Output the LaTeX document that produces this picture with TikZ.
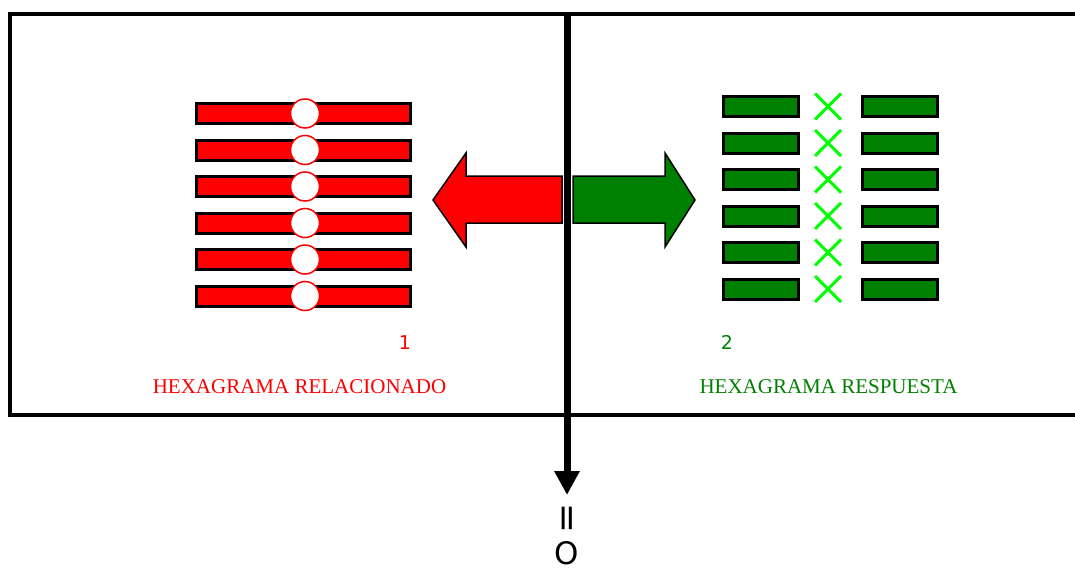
\documentclass[tikz,border=0pt]{standalone}
\usepackage{fontspec}
\setmainfont{Liberation Serif}
\setsansfont{DejaVu Sans}
\usetikzlibrary{arrows.meta,positioning}
\definecolor{hexgreen}{RGB}{0,128,0}
\definecolor{hexlime}{RGB}{0,255,0}

\begin{document}
\begin{tikzpicture}[x=1pt,y=-1pt,
  redbar/.style={draw=black,line width=3pt,fill=red,inner sep=0pt,minimum width=214pt,minimum height=20pt},
  greenbar/.style={draw=black,line width=3pt,fill=hexgreen,inner sep=0pt,minimum width=75pt,minimum height=20pt},
  dot/.style={circle,draw=red,line width=1.5pt,fill=white,inner sep=0pt,minimum size=29pt},
  cross/.style={hexlime,line width=3pt},
  bigarrow/.style={draw=black,line width=1.5pt,line join=miter},
  redtext/.style={text=red,font=\fontsize{21}{25}\selectfont},
  greentext/.style={text=hexgreen,font=\fontsize{21}{25}\selectfont},
  numtext/.style={font=\sffamily\fontsize{19}{23}\selectfont},
  signtext/.style={font=\sffamily\fontsize{31}{35}\selectfont,inner sep=0pt}]

%Page size
\useasboundingbox (0,0) rectangle (1075,567);
\clip (0,0) rectangle (1075,567);

%Row positions
\def\ry{113.5}
\def\gy{106.5}
\def\dy{36.5}

%Frame
\draw[line width=4pt] (9.5,14) rectangle (1090,415);

%Related hexagram
\foreach \i in {0,...,5}{
  \node[redbar] (r\i) at (303.5,\ry+\dy*\i) {};
  \node[dot] (c\i) at (305,\ry+\dy*\i) {};
}

%Answer hexagram
\foreach \i in {0,...,5}{
  \node[greenbar] (gl\i) at (761,\gy+\dy*\i) {};
  \node[greenbar] (gr\i) at (900,\gy+\dy*\i) {};
  \draw[cross] (815,\gy+\dy*\i-13) -- (841,\gy+\dy*\i+13);
  \draw[cross] (815,\gy+\dy*\i+13) -- (841,\gy+\dy*\i-13);
}

%Block arrows
\draw[bigarrow,fill=red] (433,200) -- (466,153) -- (466,176) -- (562,176)
  -- (562,223) -- (466,223) -- (466,247) -- cycle;
\draw[bigarrow,fill=hexgreen] (695,200) -- (665,153) -- (665,176) -- (573,176)
  -- (573,223) -- (665,223) -- (665,247) -- cycle;

%Vertical axis
\coordinate (top) at (567,12);
\coordinate (tip) at (567,495);
\draw[line width=7pt,-{Triangle[length=24pt,width=24pt]}] (top) -- (tip);

%Labels
\node[numtext,text=red,anchor=base] (one) at (405,349) {1};
\node[numtext,text=hexgreen,anchor=base] (two) at (727,349) {2};
\node[redtext,anchor=base] (relname) at (299.5,393) {HEXAGRAMA RELACIONADO};
\node[greentext,anchor=base] (respname) at (828.5,393) {HEXAGRAMA RESPUESTA};
\node[signtext,font=\sffamily\fontsize{36}{40}\selectfont,rotate=90] (eq) at (570,518) {=};
\node[signtext,anchor=base] (zero) at (567,564) {O};
\end{tikzpicture}
\end{document}
